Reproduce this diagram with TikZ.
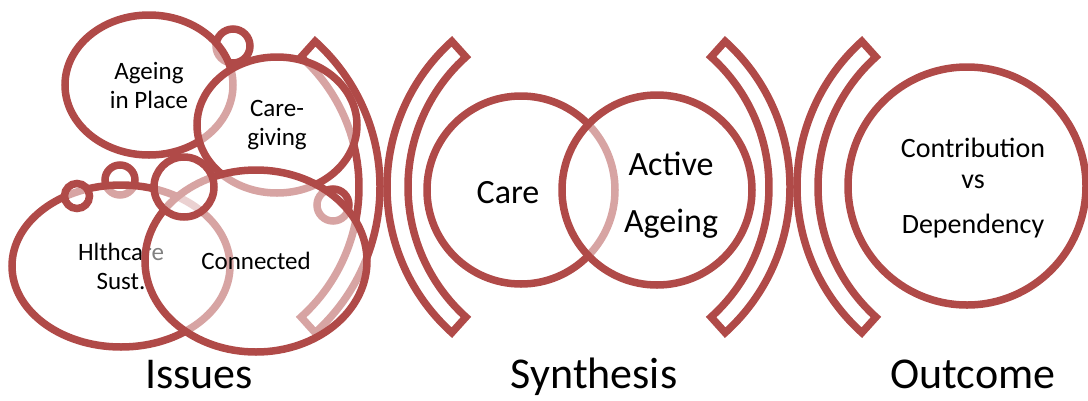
\documentclass[tikz,border=0pt]{standalone}
\usepackage{fontspec}
\setmainfont{Carlito}
\usepackage{tikz}
\usetikzlibrary{shapes.geometric,calc}
\definecolor{ringred}{RGB}{176,74,72}

\begin{document}
\begin{tikzpicture}[x=1pt,y=-1pt,
    ring/.style={draw=ringred,line width=7.5pt,fill=white,fill opacity=0.5,text opacity=1,inner sep=0pt,align=center},
    blob/.style={ring,ellipse,font=\fontsize{25}{29}\selectfont},
    bubble/.style={ring,circle},
    band/.style={draw=ringred,line width=7.5pt,fill=white,line join=miter},
    midtext/.style={align=center,inner sep=0pt,font=\fontsize{34}{57}\selectfont},
    caption/.style={anchor=base,inner sep=0pt,font=\fontsize{44}{52}\selectfont}]
    \useasboundingbox (0,0) rectangle (1088,400);
    % Issues
    \coordinate (b1) at (184,187);
    \draw[band] ([shift={(-48:196)}]b1) arc[start angle=-48,end angle=48,radius=196]
        -- ([shift={(48:175)}]b1) arc[start angle=48,end angle=-48,radius=175] -- cycle;
    \node[bubble,minimum size=34] (dotA) at (233,46) {};
    \node[blob,minimum width=168,minimum height=140] (ageing) at (149,85) {Ageing\\in Place};
    \node[blob,minimum width=160,minimum height=136] (caregiving) at (277,125) {Care-\\giving};
    \node[bubble,minimum size=30] (dotB) at (120,180) {};
    \node[bubble,minimum size=32] (dotC) at (333,205) {};
    \node[blob,minimum width=218,minimum height=162] (hlthcare) at (121,266) {Hlthcare\\Sust.};
    \node[blob,minimum width=222,minimum height=182] (connected) at (256,261) {Connected};
    \node[bubble,minimum size=60] (dotD) at (184,187) {};
    \node[bubble,minimum size=25] (dotE) at (77,196) {};
    % Synthesis
    \coordinate (b2) at (583,187);
    \draw[band] ([shift={(132:196)}]b2) arc[start angle=132,end angle=228,radius=196]
        -- ([shift={(228:175)}]b2) arc[start angle=228,end angle=132,radius=175] -- cycle;
    \node[bubble,minimum size=188] (care) at (521,190) {};
    \node[bubble,minimum size=190] (active) at (657,190) {};
    \node[midtext] (caretxt) at (508,193) {Care};
    \node[midtext] (activetxt) at (671,195) {Active\\Ageing};
    \coordinate (b3) at (594,187);
    \draw[band] ([shift={(-48:196)}]b3) arc[start angle=-48,end angle=48,radius=196]
        -- ([shift={(48:175)}]b3) arc[start angle=48,end angle=-48,radius=175] -- cycle;
    % Outcome
    \coordinate (b4) at (993,187);
    \draw[band] ([shift={(132:196)}]b4) arc[start angle=132,end angle=228,radius=196]
        -- ([shift={(228:175)}]b4) arc[start angle=228,end angle=132,radius=175] -- cycle;
    \node[bubble,minimum size=238] (contrib) at (967,186) {};
    \node[align=center,inner sep=0pt,font=\fontsize{28}{31}\selectfont] (contribtxt) at (973,188) {Contribution\\vs\\[14pt]Dependency};
    % captions
    \node[caption] (issues) at (199,388) {Issues};
    \node[caption] (synthesis) at (594,388) {Synthesis};
    \node[caption] (outcome) at (973,388) {Outcome};
\end{tikzpicture}
\end{document}
